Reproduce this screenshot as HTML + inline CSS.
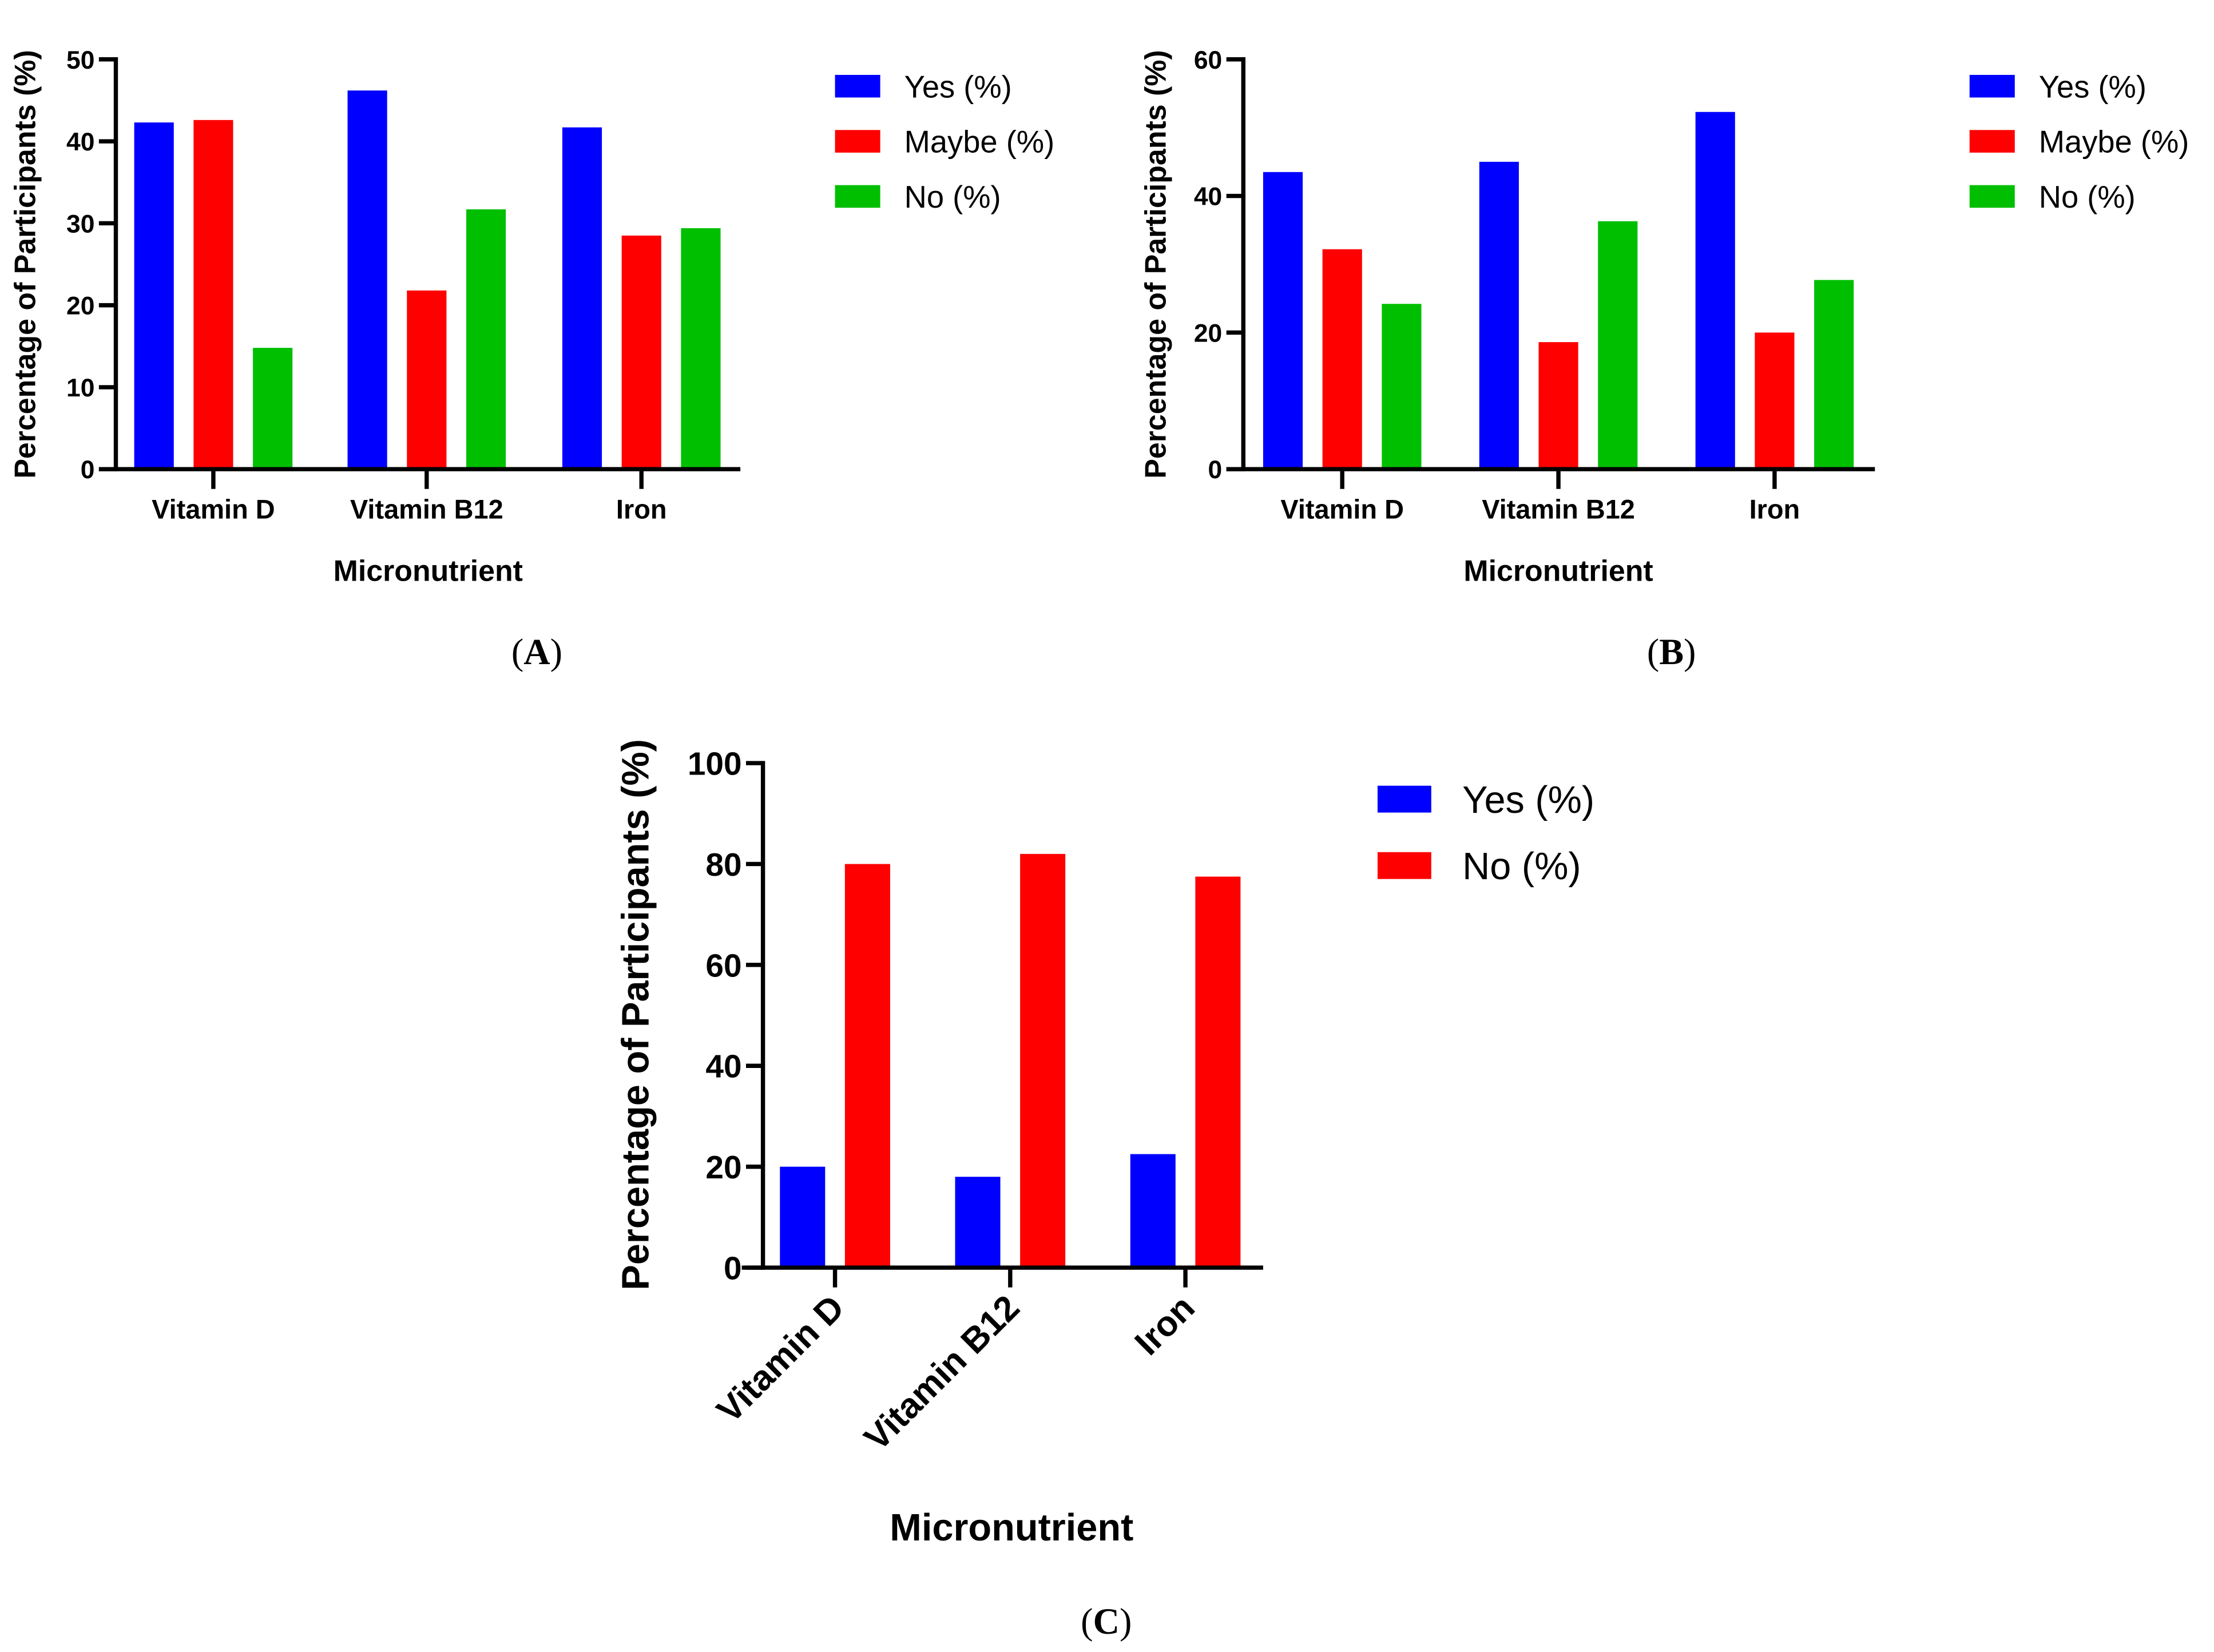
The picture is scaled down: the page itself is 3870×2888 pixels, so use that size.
<!DOCTYPE html>
<html><head><meta charset="utf-8"><style>
html,body{margin:0;padding:0;background:#fff;}
svg{display:block;font-family:"Liberation Sans",Arial,sans-serif;}
</style></head><body>
<svg id="fig" width="3870" height="2888" viewBox="0 0 1567 1169" preserveAspectRatio="none" xmlns="http://www.w3.org/2000/svg">
<rect width="1567" height="1169" fill="#fff"/>
</svg>
<script>
const categories = ["Vitamin D", "Vitamin B12", "Iron"];
const seriesNames3 = ["Yes (%)", "Maybe (%)", "No (%)"];
const seriesNames2 = ["Yes (%)", "No (%)"];
const aYes = [42.3, 46.2, 41.7];
const aMaybe = [42.6, 21.8, 28.5];
const aNo = [14.8, 31.7, 29.4];
const bYes = [43.5, 45.0, 52.3];
const bMaybe = [32.2, 18.6, 20.0];
const bNo = [24.2, 36.3, 27.7];
const cYes = [20.0, 18.0, 22.5];
const cNo = [80.0, 82.0, 77.5];
const aTicks = [0, 10, 20, 30, 40, 50];
const bTicks = [0, 20, 40, 60];
const cTicks = [0, 20, 40, 60, 80, 100];
const colors3 = ["#0000ff", "#ff0000", "#00bf00"];
const colors2 = ["#0000ff", "#ff0000"];

const NS = "http://www.w3.org/2000/svg";
const svg = document.getElementById("fig");
function mk(tag, attrs, parent) {
  const e = document.createElementNS(NS, tag);
  for (const k in attrs) e.setAttribute(k, attrs[k]);
  (parent || svg).appendChild(e);
  return e;
}

function chart(cfg) {
  const g = mk("g", {});
  
  
  const y = v => cfg.y0 - (v - cfg.ymin) / (cfg.ymax - cfg.ymin) * (cfg.y0 - cfg.ytop);
  cfg.series.forEach((vals, si) => {
    vals.forEach((v, ci) => {
      const x = cfg.groupX[ci] + si * cfg.step;
      const r = mk("rect", {x: x, y: y(v), width: cfg.bw, height: cfg.y0 - y(v), fill: cfg.colors[si]}, g);
      
      
    });
  });
  const ya = mk("line", {x1: cfg.ax, y1: cfg.ytop - 1.5, x2: cfg.ax, y2: cfg.y0 + 1.5, stroke: "#000", "stroke-width": 3}, g);
  
  
  const xa = mk("line", {x1: cfg.xstart, y1: cfg.y0, x2: cfg.xend, y2: cfg.y0, stroke: "#000", "stroke-width": 3}, g);
  
  
  cfg.ticks.forEach(t => {
    mk("line", {x1: cfg.ax - 12, y1: y(t), x2: cfg.ax, y2: y(t), stroke: "#000", "stroke-width": 3}, g);
    const tl = mk("text", {x: cfg.ax - 15, y: y(t) + cfg.tfs * 0.36, "text-anchor": "end", "font-size": cfg.tfs, "font-weight": "bold"}, g);
    tl.textContent = t;
    
    
  });
  categories.forEach((c, ci) => {
    const cx = cfg.groupX[ci] + ((cfg.series.length - 1) * cfg.step + cfg.bw) / 2;
    mk("line", {x1: cx, y1: cfg.y0, x2: cx, y2: cfg.y0 + 14, stroke: "#000", "stroke-width": 3}, g);
    let tl;
    if (cfg.rotate) {
      tl = mk("text", {x: cx + 8, y: cfg.y0 + 30, "text-anchor": "end", "font-size": cfg.cfs, "font-weight": "bold", transform: `rotate(-45 ${cx + 8} ${cfg.y0 + 30})`}, g);
    } else {
      tl = mk("text", {x: cx, y: cfg.y0 + 35, "text-anchor": "middle", "font-size": cfg.cfs, "font-weight": "bold"}, g);
    }
    tl.textContent = c;
    
    
  });
  const xt = mk("text", {x: cfg.xtx, y: cfg.xty, "text-anchor": "middle", "font-size": cfg.xtfs, "font-weight": "bold"}, g);
  xt.textContent = "Micronutrient";
  
  
  const yt = mk("text", {x: cfg.ytx, y: cfg.yty, "text-anchor": "middle", "font-size": cfg.ytfs, "font-weight": "bold", transform: `rotate(-90 ${cfg.ytx} ${cfg.yty})`}, g);
  yt.textContent = "Percentage of Participants (%)";
  
  
  cfg.names.forEach((n, i) => {
    const ly = cfg.ly + i * cfg.lstep;
    const sw = mk("rect", {x: cfg.lx, y: ly, width: cfg.lw, height: cfg.lh, fill: cfg.colors[i]}, g);
    
    
    const lt = mk("text", {x: cfg.ltx, y: ly + cfg.lh / 2 + cfg.lfs * 0.36, "font-size": cfg.lfs}, g);
    lt.textContent = n;
    
    
  });
  const pl = mk("text", {x: cfg.plx, y: cfg.ply, "text-anchor": "middle", "font-size": 26, "font-family": "Liberation Serif, serif"}, g);
  pl.innerHTML = cfg.panelLabel;
  
  
}

chart({name: "chart-a", keys: ["yes","maybe","no"], series: [aYes, aMaybe, aNo], colors: colors3, names: seriesNames3,
  ticks: aTicks, ymin: 0, ymax: 50, y0: 332, ytop: 42, ax: 82, xstart: 70, xend: 524,
  groupX: [95, 246, 398], step: 42, bw: 28, tfs: 18, cfs: 19, rotate: false,
  xtx: 303, xty: 411, xtfs: 21, ytx: 25, yty: 187, ytfs: 21,
  lx: 591, ly: 53, lw: 32, lh: 16, lstep: 39, ltx: 640, lfs: 22, plx: 380, ply: 470,
  panelLabel: '(<tspan font-weight="bold">A</tspan>)'});
chart({name: "chart-b", keys: ["yes","maybe","no"], series: [bYes, bMaybe, bNo], colors: colors3, names: seriesNames3,
  ticks: bTicks, ymin: 0, ymax: 60, y0: 332, ytop: 42, ax: 880, xstart: 868, xend: 1327,
  groupX: [894, 1047, 1200], step: 42, bw: 28, tfs: 18, cfs: 19, rotate: false,
  xtx: 1103, xty: 411, xtfs: 21, ytx: 825, yty: 187, ytfs: 21,
  lx: 1394, ly: 53, lw: 32, lh: 16, lstep: 39, ltx: 1443, lfs: 22, plx: 1183, ply: 470,
  panelLabel: '(<tspan font-weight="bold">B</tspan>)'});
chart({name: "chart-c", keys: ["yes","no"], series: [cYes, cNo], colors: colors2, names: seriesNames2,
  ticks: cTicks, ymin: 0, ymax: 100, y0: 897, ytop: 540, ax: 540, xstart: 525, xend: 894,
  groupX: [552, 676, 800], step: 46, bw: 32, tfs: 23, cfs: 25, rotate: true,
  xtx: 716, xty: 1090, xtfs: 27, ytx: 459, yty: 718, ytfs: 27,
  lx: 975, ly: 556, lw: 38, lh: 19, lstep: 47, ltx: 1035, lfs: 27, plx: 783, ply: 1156,
  panelLabel: '(<tspan font-weight="bold">C</tspan>)'});
</script>
</body></html>
